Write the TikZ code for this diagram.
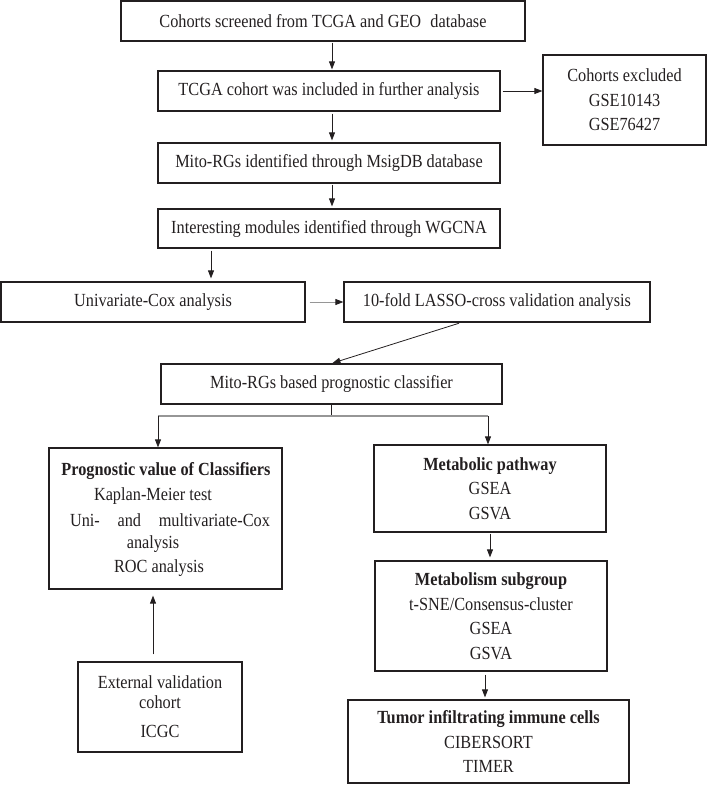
\documentclass[tikz,border=0pt]{standalone}
\usepackage{fontspec}
\setmainfont{Liberation Serif}[FakeStretch=0.88]
\usetikzlibrary{arrows.meta,calc}
\definecolor{ink}{RGB}{35,31,32}
\definecolor{lgray}{RGB}{150,150,150}
\newcommand\myfs{\fontsize{18.5}{24.5}\selectfont}
\begin{document}
\begin{tikzpicture}[x=1pt,y=-1pt,
  box/.style={draw=ink,line width=1.2pt,inner sep=0pt,align=center,font=\myfs,text=ink},
  txt/.style={inner sep=0pt,font=\myfs,text=ink},
  arr/.style={-{Triangle[length=8pt,width=6pt,color=ink]},line width=0.8pt,draw=ink},
  grayline/.style={line width=1.2pt,draw=lgray}]
\useasboundingbox (0,0) rectangle (708,785);
\node[box,minimum width=404pt,minimum height=40pt] (b1) at (323,21) {Cohorts screened from TCGA and GEO\enspace database};
\node[box,minimum width=342pt,minimum height=40pt] (b2) at (329,91) {TCGA cohort was included in further analysis};
\node[box,minimum width=163pt,minimum height=90pt] (ex) at (624.5,100) {Cohorts excluded\\GSE10143\\GSE76427};
\node[box,minimum width=342pt,minimum height=40pt] (b3) at (329,163) {Mito-RGs identified through MsigDB database};
\node[box,minimum width=342pt,minimum height=39pt] (b4) at (329,228.5) {Interesting modules identified through WGCNA};
\node[box,minimum width=304pt,minimum height=40pt] (b5) at (153,302) {Univariate-Cox analysis};
\node[box,minimum width=306pt,minimum height=40pt] (b6) at (497,302) {10-fold LASSO-cross validation analysis};
\node[box,minimum width=341pt,minimum height=40pt] (b7) at (331.5,384) {Mito-RGs based prognostic classifier};
\node[box,minimum width=233pt,minimum height=141pt] (b8) at (165.5,518.5) {};
\node[txt] (b8a) at (166,471) {\textbf{Prognostic value of Classifiers}};
\node[txt] (b8b) at (153,496) {Kaplan-Meier test};
\node[txt] (b8c) at (170,520) {\makebox[200pt][s]{Uni- and multivariate-Cox}};
\node[txt] (b8d) at (153,544) {analysis};
\node[txt] (b8e) at (159,568) {ROC analysis};
\node[box,minimum width=232pt,minimum height=87pt] (b9) at (490,488.5) {\textbf{Metabolic pathway}\\GSEA\\GSVA};
\node[box,minimum width=232pt,minimum height=110pt] (b10) at (491,616) {\textbf{Metabolism subgroup}\\t-SNE/Consensus-cluster\\GSEA\\GSVA};
\node[box,minimum width=164pt,minimum height=90pt] (b11) at (160,707) {External validation\\[-4.5pt]cohort\\[4.5pt]ICGC};
\node[box,minimum width=281pt,minimum height=83pt] (b12) at (488.5,741.5) {\textbf{Tumor infiltrating immune cells}\\CIBERSORT\\TIMER};
\coordinate (xm) at (332,0);
\coordinate (xl) at (211,0);
\coordinate (xr) at (485,0);
\coordinate (xv) at (153,0);
\coordinate (jl) at (158,416);
\coordinate (jr) at (488,416);
\draw[arr,shorten <=1pt,shorten >=1pt] (b1.south -| xm) -- (b2.north -| xm);
\draw[arr,shorten <=2pt] (b2.east) -- (ex.west |- b2.east);
\draw[arr,shorten <=2pt,shorten >=2pt] (b2.south -| xm) -- (b3.north -| xm);
\draw[arr,shorten <=1pt,shorten >=2pt] (b3.south -| xm) -- (b4.north -| xm);
\draw[arr,shorten <=2pt,shorten >=3pt] (b4.south -| xl) -- (b5.north -| xl);
\draw[arr,draw=lgray,shorten <=4pt] (b5.east) -- (b6.west);
\draw[arr,shorten <=2pt,shorten >=1pt] ([xshift=-36pt]b6.south) -- (b7.north);
\draw[ink,line width=0.8pt] (b7.south) -- (b7.south |- jl);
\draw[grayline] (jl) -- (jr);
\draw[arr] (jl) -- (b8.north -| jl);
\draw[arr] (jr) -- (b9.north -| jr);
\draw[arr,shorten <=1pt,shorten >=3pt] (b9.south) -- (b10.north -| b9.south);
\draw[arr,shorten <=3pt,shorten >=2pt] (b10.south -| xr) -- (b12.north -| xr);
\draw[arr,shorten <=7pt,shorten >=6pt] (b11.north -| xv) -- (b8.south -| xv);
\end{tikzpicture}
\end{document}
